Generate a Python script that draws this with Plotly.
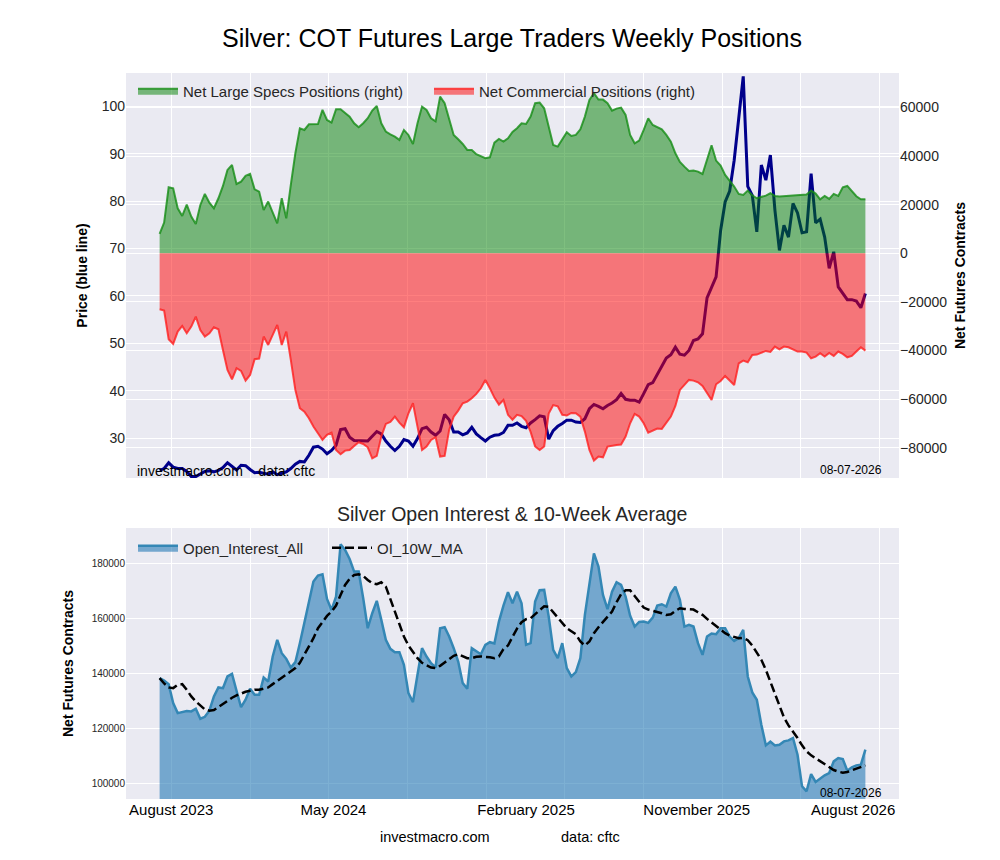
import pandas as pd
import plotly.graph_objects as go

# weekly report dates
dates = pd.date_range("2023-07-14", periods=157, freq="7D")

# silver price (left axis, blue line)
price = [
    23.2, 23.6, 24.8, 23.9, 23.6, 23.6, 23.0, 21.9, 21.9, 22.5,
    23.0, 23.1, 22.9, 23.2, 23.8, 24.8, 24.1, 23.3, 24.3, 24.2,
    23.4, 22.7, 22.8, 22.6, 22.4, 22.9, 22.3, 22.6, 22.9, 23.6,
    24.5, 25.1, 25.0, 26.4, 28.1, 28.3, 27.7, 26.7, 27.4, 28.5,
    31.8, 32.0, 30.2, 29.5, 29.5, 29.4, 29.4, 30.4, 31.4, 30.9,
    29.4, 28.3, 27.4, 28.3, 29.7, 29.4, 28.3, 29.9, 32.0, 32.3,
    31.3, 30.6, 31.5, 35.0, 33.9, 31.3, 31.3, 30.7, 31.1, 32.3,
    30.9, 30.1, 29.4, 30.2, 30.6, 30.7, 31.2, 32.7, 32.7, 33.2,
    32.5, 32.2, 33.2, 33.9, 34.7, 34.5, 29.8, 31.6, 32.5, 33.1,
    33.8, 33.8, 33.4, 33.3, 34.1, 36.2, 37.1, 36.7, 36.2, 36.9,
    37.4, 38.1, 39.4, 38.2, 38.0, 38.0, 37.6, 39.4, 41.3, 41.7,
    43.5, 45.4, 46.9, 47.6, 49.2, 47.7, 47.5, 48.5, 50.6, 50.9,
    52.0, 59.6, 61.7, 64.0, 73.8, 79.8, 82.1, 88.6, 97.4, 106.3,
    83.1, 81.2, 73.5, 87.6, 84.4, 89.7, 78.1, 69.6, 74.9, 72.4,
    79.5, 77.5, 73.3, 73.5, 85.8, 75.4, 76.2, 72.4, 65.8, 69.3,
    61.9, 60.5, 59.2, 59.2, 58.9, 57.5, 60.5,
]

# net large speculators (right axis)
large_specs = [
    7960, 12620, 27170, 26750, 18520, 15370, 20030, 15090, 12070, 19890,
    24420, 20850, 18520, 22640, 27710, 34300, 36360, 28540, 29500, 31830,
    32650, 26340, 25380, 17840, 21270, 16460, 12350, 22640, 14410, 28130,
    41160, 51450, 50760, 53100, 53230, 53230, 59000, 54880, 53780, 59270,
    59270, 57620, 56250, 53500, 51860, 53500, 55570, 58720, 60640, 53500,
    50080, 48980, 48020, 46650, 50760, 48700, 45000, 53500, 60370, 59000,
    55570, 54330, 64480, 61740, 54880, 48700, 46920, 45000, 42530, 42530,
    40750, 40060, 39100, 39510, 45550, 47060, 45960, 47330, 49940, 51500,
    53500, 53230, 56250, 61740, 62010, 59680, 51450, 44590, 43900, 46650,
    49800, 48290, 48700, 51040, 56250, 63110, 65860, 63250, 63250, 61740,
    58720, 59540, 59960, 56940, 48700, 45280, 46370, 50760, 55570, 52820,
    51860, 51040, 48700, 45960, 41160, 37590, 35670, 33890, 34030, 33610,
    32650, 38690, 44450, 38140, 36080, 32240, 30050, 27440, 24420, 24010,
    25790, 23870, 22640, 23050, 23740, 24700, 23600, 23320, 23460, 23460,
    23600, 23740, 24010, 24150, 25790, 24560, 22230, 23600, 22360, 24420,
    23600, 27170, 27710, 25520, 23460, 22230, 22230,
]

# net commercials (right axis)
commercials = [
    -23050, -23600, -35400, -37320, -32240, -29910, -32930, -30180, -26070, -31560,
    -34300, -32930, -30460, -31280, -39790, -48020, -51860, -47330, -48430, -52410,
    -50080, -43630, -43360, -34300, -37730, -33340, -29500, -37730, -32240, -43900,
    -56250, -63800, -65170, -67910, -71340, -74090, -76830, -74770, -73810, -80950,
    -82730, -81220, -80950, -79300, -77790, -78480, -79850, -84380, -83420, -75460,
    -70250, -69420, -67230, -69700, -71620, -65860, -61740, -71340, -80950, -79580,
    -76830, -75730, -83690, -83420, -72720, -67230, -64760, -61740, -61050, -59680,
    -57900, -55570, -52140, -55570, -59410, -62300, -60370, -66500, -68500, -66500,
    -67000, -69000, -73500, -79500, -81000, -79500, -66000, -62500, -63000, -66500,
    -66800, -65700, -65800, -67230, -73400, -80950, -85340, -83690, -83970, -79580,
    -79160, -78890, -78750, -75460, -69970, -66130, -67230, -69970, -73810, -72990,
    -72170, -72300, -69970, -67230, -62840, -56250, -54190, -52140, -52410, -53100,
    -54610, -57620, -60370, -53920, -52550, -50490, -52140, -54190, -45280, -44180,
    -44860, -41850, -41710, -41020, -40200, -40610, -38420, -39520, -38420, -38690,
    -39650, -40470, -40470, -40880, -43220, -42530, -41160, -42530, -41020, -42260,
    -40470, -41430, -42810, -42260, -40470, -38690, -40060,
]

# open interest and its 10-week average
open_interest = [
    138370, 137520, 136200, 129320, 125700, 125950, 126430, 126300, 127270, 123650,
    124370, 126550, 131740, 134990, 134750, 138980, 139940, 133790, 127880, 130530,
    134510, 132340, 132340, 138620, 137170, 146220, 152250, 147420, 145370, 142230,
    144160, 151040, 158640, 166130, 173370, 175540, 176020, 167090, 163110, 167930,
    186880, 184830, 181570, 176990, 176990, 167330, 156470, 161900, 166370, 159490,
    152250, 149000, 147780, 147780, 143200, 132940, 129690, 139580, 149230, 146220,
    143800, 142230, 156470, 156830, 153450, 149230, 144400, 136560, 134510, 149230,
    148030, 147060, 150440, 151410, 150930, 158890, 164680, 169500, 165520, 169740,
    165520, 150440, 151040, 166130, 170230, 170350, 160700, 148630, 145610, 151040,
    142000, 138980, 140550, 145610, 161300, 172760, 183620, 178790, 168540, 163350,
    169740, 173120, 172160, 167930, 161000, 157070, 158760, 158880, 158400, 160330,
    164680, 165160, 164320, 169140, 171550, 166730, 157070, 157680, 157070, 151040,
    146820, 153450, 154540, 154300, 156470, 156470, 153450, 151890, 152850, 155870,
    138980, 133190, 130530, 121480, 114000, 115330, 114000, 114240, 115450, 115810,
    116660, 110620, 99160, 97350, 103620, 100730, 101930, 103140, 103980, 108200,
    109410, 109050, 104830, 106030, 106760, 107000, 112430,
]

oi_10w_ma = [
    138370, 136440, 135000, 134750, 135960, 136200, 134150, 131740, 129930, 128360,
    127030, 126550, 126790, 127880, 129080, 130170, 131260, 132100, 132820, 133430,
    133790, 134150, 134150, 134510, 135000, 136200, 137410, 138370, 139580, 140790,
    142000, 143920, 146820, 149830, 152850, 156470, 158880, 160940, 162500, 164680,
    168540, 172160, 174330, 175780, 176020, 175420, 173970, 172760, 172400, 173120,
    171550, 167000, 162800, 158300, 153450, 150200, 147780, 145610, 143920, 142960,
    142230, 141990, 142840, 144040, 145250, 146460, 147060, 146340, 145610, 145610,
    146090, 146220, 146220, 145970, 145610, 146220, 148870, 150200, 153330, 156350,
    158640, 159730, 160090, 161540, 163230, 164440, 164200, 162260, 160330, 158280,
    156470, 155390, 154300, 151650, 150200, 151650, 154660, 156830, 158640, 160330,
    162500, 165880, 168780, 170230, 170200, 168180, 165880, 163960, 163230, 162870,
    162500, 161900, 161300, 161540, 162740, 163710, 163470, 163470, 163230, 162260,
    161300, 159850, 158520, 157440, 155990, 154660, 153810, 153210, 152850, 152970,
    152120, 150200, 147780, 145010, 141390, 137170, 132940, 128360, 124130, 121240,
    119070, 116660, 114000, 111830, 110380, 109290, 108200, 107240, 106030, 105070,
    104470, 104110, 104350, 104950, 105800, 106280, 106760,
]

grid_dates = ["2023-08-01", "2023-12-01", "2024-04-01", "2024-08-01", "2024-12-01",
              "2025-04-01", "2025-08-01", "2025-12-01", "2026-04-01", "2026-08-01"]
label_dates = ["2023-08-01", "2024-04-08", "2025-01-31", "2025-10-22", "2026-06-21"]
label_text = ["August 2023", "May 2024", "February 2025", "November 2025", "August 2026"]

FONT = "Liberation Sans, Arial, sans-serif"
BG = "#EAEAF2"
x_range = ["2023-05-23", "2026-08-31"]


# the page puts the figure 8px in from the top-left corner
def px(x):
    return (x - 8) / 1000


def py(y):
    return 1 - (y - 8) / 860


fig = go.Figure()

fig.add_trace(go.Scatter(x=dates, y=price, mode="lines", yaxis="y",
                         line=dict(color="#00008B", width=3), showlegend=False))
fig.add_trace(go.Scatter(x=dates, y=large_specs, mode="lines", yaxis="y2", fill="tozeroy",
                         fillcolor="rgba(0,128,0,0.5)", line=dict(color="rgba(20,140,20,0.8)", width=2),
                         name="Net Large Specs Positions (right)"))
fig.add_trace(go.Scatter(x=dates, y=commercials, mode="lines", yaxis="y2", fill="tozeroy",
                         fillcolor="rgba(255,0,0,0.5)", line=dict(color="rgba(255,30,30,0.8)", width=2),
                         name="Net Commercial Positions (right)"))

fig.add_trace(go.Scatter(x=dates, y=open_interest, mode="lines", xaxis="x2", yaxis="y3",
                         fill="tozeroy", fillcolor="rgba(31,119,180,0.58)",
                         line=dict(color="#3487B5", width=2.5),
                         name="Open_Interest_All", legend="legend2"))
fig.add_trace(go.Scatter(x=dates, y=oi_10w_ma, mode="lines", xaxis="x2", yaxis="y3",
                         line=dict(color="black", width=2.5, dash="9px,4px"),
                         name="OI_10W_MA", legend="legend2"))

tickfont = dict(family=FONT, size=14, color="#262626")
titlefont = dict(family=FONT, size=14, color="black")

fig.update_layout(
    width=1000, height=860,
    margin=dict(l=0, r=0, t=0, b=0),
    paper_bgcolor="white", plot_bgcolor=BG,
    font=dict(family=FONT, color="#262626"),
    title=dict(text="Silver: COT Futures Large Traders Weekly Positions",
               x=px(512), xanchor="center", y=py(38), yanchor="middle",
               font=dict(family=FONT, size=25, color="black")),
    xaxis=dict(domain=[px(126), px(899)], anchor="y", range=x_range, type="date",
               tickvals=grid_dates, showticklabels=False, showgrid=True,
               gridcolor="white", gridwidth=1, showline=False, zeroline=False, ticks=""),
    yaxis=dict(domain=[py(478), py(73)], range=[21.6, 107.0],
               tickvals=[30, 40, 50, 60, 70, 80, 90, 100],
               title=dict(text="<b>Price (blue line)</b>", font=titlefont, standoff=10),
               gridcolor="white", gridwidth=1, showline=False, zeroline=False, ticks="",
               tickfont=tickfont),
    yaxis2=dict(overlaying="y", side="right", anchor="x", range=[-92500, 74200],
                tickvals=[-80000, -60000, -40000, -20000, 0, 20000, 40000, 60000],
                tickformat="d",
                title=dict(text="<b>Net Futures Contracts</b>", font=titlefont, standoff=8),
                gridcolor="white", gridwidth=1, showline=False, zeroline=False, ticks="",
                tickfont=tickfont),
    xaxis2=dict(domain=[px(126), px(899)], anchor="y3", range=x_range, type="date",
                tickvals=label_dates, ticktext=label_text, showgrid=False,
                minor=dict(tickmode="array", tickvals=grid_dates, showgrid=True,
                           gridcolor="white", gridwidth=1, ticks=""),
                showline=False, zeroline=False, ticks="",
                tickfont=dict(family=FONT, size=15, color="black")),
    yaxis3=dict(domain=[py(799), py(528)], anchor="x2", range=[94560, 192800],
                tickvals=[100000, 120000, 140000, 160000, 180000], tickformat="d",
                title=dict(text="<b>Net Futures Contracts</b>", font=titlefont, standoff=14),
                gridcolor="white", gridwidth=1, showline=False, zeroline=False, ticks="",
                tickfont=dict(family=FONT, size=10, color="#262626")),
    legend=dict(orientation="h", x=px(133), xanchor="left", y=py(91), yanchor="middle",
                bgcolor="rgba(0,0,0,0)", font=dict(family=FONT, size=15, color="#262626"),
                itemwidth=40, entrywidth=241, entrywidthmode="pixels", traceorder="normal"),
    legend2=dict(orientation="h", x=px(133), xanchor="left", y=py(548), yanchor="middle",
                 bgcolor="rgba(0,0,0,0)", font=dict(family=FONT, size=15, color="#262626"),
                 itemwidth=40, entrywidth=139, entrywidthmode="pixels", traceorder="normal"),
)

fig.add_annotation(text="Silver Open Interest & 10-Week Average", xref="paper", yref="paper",
                   x=px(512), y=py(514), xanchor="center", yanchor="middle", showarrow=False,
                   font=dict(family=FONT, size=19.5, color="#262626"))
fig.add_annotation(text="investmacro.com    data: cftc", xref="paper", yref="paper",
                   x=px(135), y=py(471), xanchor="left", yanchor="middle", showarrow=False,
                   font=dict(family=FONT, size=14, color="black"))
fig.add_annotation(text="08-07-2026", xref="paper", yref="paper",
                   x=px(884), y=py(470), xanchor="right", yanchor="middle", showarrow=False,
                   font=dict(family=FONT, size=12, color="black"))
fig.add_annotation(text="08-07-2026", xref="paper", yref="paper",
                   x=px(884), y=py(793), xanchor="right", yanchor="middle", showarrow=False,
                   font=dict(family=FONT, size=12, color="black"))
fig.add_annotation(text="investmacro.com", xref="paper", yref="paper",
                   x=px(435), y=py(837), xanchor="center", yanchor="middle", showarrow=False,
                   font=dict(family=FONT, size=14.5, color="black"))
fig.add_annotation(text="data: cftc", xref="paper", yref="paper",
                   x=px(590), y=py(837), xanchor="center", yanchor="middle", showarrow=False,
                   font=dict(family=FONT, size=14.5, color="black"))

fig.write_html("out.html")
